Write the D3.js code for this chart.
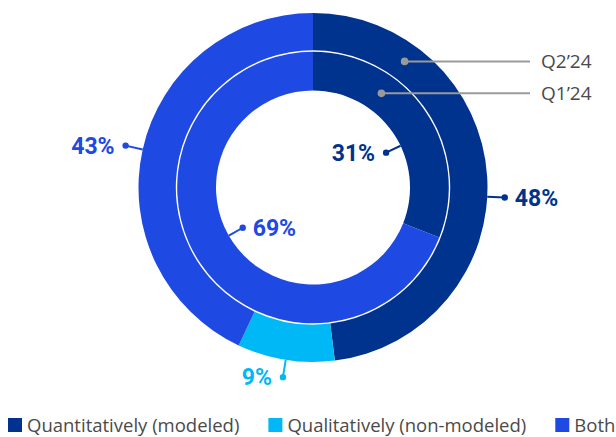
<!DOCTYPE html>
<html>
<head>
<meta charset="utf-8">
<script src="https://cdn.jsdelivr.net/npm/d3@7"></script>
<style>
  body { margin: 0; background: #fff; }
  svg { display: block; }
</style>
</head>
<body>
<div id="chart"></div>
<script>
// Chart data
var categories = ["Quantitatively (modeled)", "Qualitatively (non-modeled)", "Both"];
var colors = ["#00338D", "#00B8F5", "#1E49E2"];
var periods = ["Q2\u201924", "Q1\u201924"];
var q2Values = [48, 9, 43];   // outer ring
var q1Values = [31, 0, 69];   // inner ring

var width = 616, height = 437;
var cx = 313, cy = 187.5;

var svg = d3.select("#chart")
    .append("svg")
    .attr("width", width)
    .attr("height", height);

var g = svg.append("g").attr("transform", "translate(" + cx + "," + cy + ")");

var pie = d3.pie().sort(null).value(function(d) { return d; });

var rings = [
    { values: q2Values, inner: 137.2, outer: 174.5, leaderR: 192, outside: true, nudge: [6.6, 0, 0] },
    { values: q1Values, inner: 97, outer: 135.8, leaderR: 81, outside: false, nudge: [8.7, 0, 4.4] }
];

rings.forEach(function(ring) {
    var arc = d3.arc().innerRadius(ring.inner).outerRadius(ring.outer);
    var arcs = pie(ring.values);

    g.append("g")
        .selectAll("path")
        .data(arcs)
        .enter()
        .append("path")
        .attr("d", arc)
        .attr("fill", function(d, i) { return colors[i]; });

    // value labels with leader line and dot
    arcs.forEach(function(d, i) {
        if (d.value === 0) return;
        var mid = (d.startAngle + d.endAngle) / 2 + ring.nudge[i] * Math.PI / 180;
        var r0 = ring.outside ? ring.outer : ring.inner;
        var x0 = r0 * Math.sin(mid), y0 = -r0 * Math.cos(mid);
        var x1 = ring.leaderR * Math.sin(mid), y1 = -ring.leaderR * Math.cos(mid);

        g.append("line")
            .attr("x1", x0).attr("y1", y0)
            .attr("x2", x1).attr("y2", y1)
            .attr("stroke", colors[i])
            .attr("stroke-width", 2);
        g.append("circle")
            .attr("cx", x1).attr("cy", y1)
            .attr("r", 3.2)
            .attr("fill", colors[i]);

        var right = ring.outside ? x1 > 0 : x1 < 0;
        g.append("text")
            .attr("x", x1 + (right ? 10 : -11))
            .attr("y", y1)
            .attr("dy", "0.36em")
            .attr("text-anchor", right ? "start" : "end")
            .attr("fill", colors[i])
            .style("font-family", "Roboto, sans-serif")
            .style("font-weight", "bold")
            .style("font-size", "23px")
            .text(d.value + "%");
    });
});

// period callouts
var calloutAngle = 36 * Math.PI / 180;
rings.forEach(function(ring, i) {
    var r = (ring.inner + ring.outer) / 2;
    var x = r * Math.sin(calloutAngle), y = -r * Math.cos(calloutAngle);
    g.append("line")
        .attr("x1", x).attr("y1", y)
        .attr("x2", 530 - cx).attr("y2", y)
        .attr("stroke", "#9a9a9a")
        .attr("stroke-width", 2);
    g.append("circle")
        .attr("cx", x).attr("cy", y)
        .attr("r", 3.8)
        .attr("fill", "#9a9a9a");
    g.append("text")
        .attr("x", 541 - cx)
        .attr("y", y)
        .attr("dy", "0.36em")
        .attr("fill", "#4a4a4a")
        .style("font-family", "'Open Sans', sans-serif")
        .style("font-size", "19px")
        .text(periods[i]);
});

// legend
var legend = svg.append("g");
var lx = 8;
categories.forEach(function(c, i) {
    legend.append("rect")
        .attr("x", lx).attr("y", 418)
        .attr("width", 14).attr("height", 14)
        .attr("fill", colors[i]);
    var t = legend.append("text")
        .attr("x", lx + 19)
        .attr("y", 432)
        .attr("fill", "#4a4a4a")
        .style("font-family", "'Open Sans', sans-serif")
        .style("font-size", "18.5px")
        .text(c);
    lx += 19 + t.node().getComputedTextLength() + 29;
});
</script>
</body>
</html>
